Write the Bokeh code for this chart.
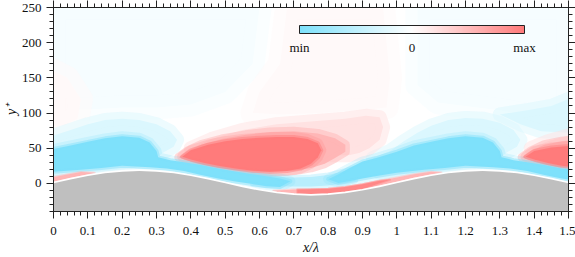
from bokeh.plotting import figure
from bokeh.models import (LinearAxis, Range1d, SingleIntervalTicker, NumeralTickFormatter,
                          ColorBar, LinearColorMapper, FixedTicker)
from bokeh.embed import file_html
from bokeh.resources import INLINE

# ---------------- axes / labels ----------------
x_lim = [0.0, 1.5]
y_lim = [-40.0, 250.0]
x_major = 0.1
y_major = 50
cbar_ticks = [-1, 0, 1]
cbar_labels = ["min", "0", "max"]

BLUE = "#7ee1fb"
RED = "#ff7b7b"
GRAY = "#bfbfbf"
SERIF = "Liberation Serif, serif"

# ---------------- wall (y+ of the wavy surface) ----------------
wall_x = [0.0, 0.05, 0.1, 0.15, 0.2, 0.25, 0.3, 0.35, 0.4, 0.45, 0.5, 0.55, 0.6, 0.65, 0.7, 0.75,
          0.8, 0.85, 0.9, 0.95, 1.0, 1.05, 1.1, 1.15, 1.2, 1.25, 1.3, 1.35, 1.4, 1.45, 1.5]
wall_y = [0, 5.4, 10.3, 14.2, 16.6, 17.5, 16.6, 14.2, 10.3, 5.4, 0, -5.4, -10.3, -14.2, -16.6, -17.5,
          -16.6, -14.2, -10.3, -5.4, 0, 5.4, 10.3, 14.2, 16.6, 17.5, 16.6, 14.2, 10.3, 5.4, 0]

# ---------------- faint background tints ----------------
bg_blue_left_x = [0.0, 0.0, 0.6, 0.58, 0.5, 0.4, 0.3, 0.2, 0.1, 0.05]
bg_blue_left_y = [110, 250, 250, 170, 130, 112, 108, 108, 105, 105]
bg_pink_mid_x = [0.68, 0.66, 0.6, 0.58, 0.66, 0.78, 0.9, 0.97, 0.98, 0.96]
bg_pink_mid_y = [250, 170, 130, 100, 98, 100, 104, 108, 150, 250]
bg_blue_right_x = [1.06, 1.06, 1.12, 1.2, 1.3, 1.4, 1.5, 1.5]
bg_blue_right_y = [250, 140, 115, 110, 104, 95, 88, 250]
bg_pink_left_x = [0.0, 0.0, 0.04, 0.08, 0.07, 0.03]
bg_pink_left_y = [82, 160, 150, 120, 92, 82]

# ---------------- pale layers ----------------
pale_blue_left_x = [0.0, 0.0, 0.05, 0.1, 0.15, 0.2, 0.25, 0.3, 0.34, 0.36, 0.35, 0.32, 0.3, 0.2, 0.1, 0.0]
pale_blue_left_y = [40, 68, 76, 84, 90, 92, 90, 84, 74, 62, 52, 44, 36, 30, 25, 20]
pale_blue_right_x = [0.93, 0.98, 1.02, 1.06, 1.1, 1.15, 1.2, 1.25, 1.3, 1.34, 1.36, 1.35, 1.32, 1.3,
                     1.2, 1.1, 1.0, 0.95]
pale_blue_right_y = [36, 46, 60, 72, 82, 90, 93, 92, 86, 76, 62, 52, 44, 36, 30, 25, 20, 15]
pale_blue_edge_x = [1.3, 1.36, 1.42, 1.5, 1.5, 1.45, 1.38]
pale_blue_edge_y = [98, 84, 74, 72, 120, 110, 104]
red_pale_left_x = [0.4, 0.46, 0.55, 0.65, 0.75, 0.85, 0.91, 0.95, 0.96, 0.95, 0.92, 0.89, 0.86, 0.8, 0.6]
red_pale_left_y = [50, 63, 76, 84, 88, 92, 96, 94, 80, 62, 50, 43, 40, 40, 45]
red_pale_right_x = [1.39, 1.44, 1.5, 1.5, 1.45]
red_pale_right_y = [50, 60, 68, 40, 40]

# ---------------- medium layers ----------------
red_med_left_x = [0.365, 0.39, 0.43, 0.49, 0.56, 0.63, 0.7, 0.77, 0.82, 0.85, 0.85, 0.82, 0.79, 0.75,
                  0.7, 0.62, 0.55, 0.48, 0.42, 0.385]
red_med_left_y = [37, 46, 55, 63, 69, 73, 74, 71, 64, 55, 45, 36, 28, 22, 18, 16, 18, 22, 28, 33]
red_med_right_x = [1.365, 1.39, 1.43, 1.48, 1.5, 1.5, 1.47, 1.42, 1.385]
red_med_right_y = [37, 46, 55, 60, 61, 23, 23, 28, 33]
blue_mid_x = [0.58, 0.65, 0.7, 0.75, 0.8, 0.85, 0.88, 0.88, 0.85, 0.8, 0.75, 0.7, 0.65, 0.58]
blue_mid_y = [13, 9.5, 8.5, 9, 12, 18, 22, 4, 0, -3, -4.5, -4.5, -4, -1.5]

# ---------------- saturated cores ----------------
blue_core_left_x = [0.0, 0.05, 0.1, 0.15, 0.2, 0.25, 0.28, 0.3, 0.305, 0.34, 0.38, 0.43, 0.48, 0.53,
                    0.58, 0.62, 0.66, 0.69, 0.66, 0.62, 0.58, 0.53, 0.48, 0.43, 0.38, 0.33, 0.28,
                    0.2, 0.14, 0.08, 0.0]
blue_core_left_y = [49, 54, 59, 64, 67, 65, 58, 46, 37, 33, 30, 26, 21, 17, 13, 10, 7, 3, -5, -4, -1,
                    2.5, 7, 12, 17.5, 21, 23, 25, 22, 19.5, 16.5]
blue_core_right_x = [0.8, 0.83, 0.86, 0.9, 0.94, 1.0, 1.05, 1.1, 1.15, 1.2, 1.25, 1.28, 1.3, 1.305,
                     1.34, 1.38, 1.43, 1.48, 1.5, 1.5, 1.48, 1.43, 1.38, 1.33, 1.28, 1.2, 1.14, 1.08,
                     1.0, 0.95, 0.9, 0.86, 0.83]
blue_core_right_y = [6, 13, 21, 31, 36, 45, 54, 59, 64, 67, 65, 58, 46, 37, 33, 30, 26, 21, 20, 5.5,
                     7, 12, 17.5, 21, 23, 25, 22, 19.5, 15, 11, 7, 3, 0.5]
red_core_left_x = [0.375, 0.4, 0.45, 0.5, 0.55, 0.6, 0.65, 0.7, 0.74, 0.77, 0.78, 0.77, 0.75, 0.72,
                   0.68, 0.63, 0.58, 0.53, 0.48, 0.44, 0.4]
red_core_left_y = [38, 47, 55, 60, 63, 65, 66, 66, 63, 57, 47, 37, 28, 21, 17.5, 16.5, 18, 21, 25, 29, 34]
red_core_right_x = [1.375, 1.4, 1.45, 1.5, 1.5, 1.48, 1.44, 1.4]
red_core_right_y = [38, 46, 51, 53, 24, 25, 29, 34]

# ---------------- thin near-wall layers ----------------
strip_x = [0.64, 0.7, 0.75, 0.8, 0.85, 0.9, 0.95, 1.0, 1.05, 1.1, 1.13, 1.1, 1.05, 1.0, 0.95, 0.9,
           0.85, 0.8, 0.75, 0.7, 0.64]
strip_y = [-10.5, -8.6, -8.5, -7.6, -5.2, -1.3, 3.6, 8.5, 13, 16.5, 15.5, 13, 7.9, 2.3, -3.1, -8,
           -11.9, -14.3, -15.2, -14.4, -12.0]
strip_core_x = [0.71, 0.75, 0.8, 0.85, 0.9, 0.95, 0.98, 0.95, 0.9, 0.85, 0.8, 0.75, 0.71]
strip_core_y = [-8.8, -8.5, -7.6, -5.2, -1.3, 3.6, 5, 0, -8, -11.9, -14.3, -15.2, -14.6]
strip_left_x = [0.0, 0.04, 0.08, 0.12, 0.08, 0.04, 0.0]
strip_left_y = [9, 12.5, 16, 15, 10.8, 6.6, 2.3]


def hexrgb(h):
    return tuple(int(h[i:i + 2], 16) for i in (1, 3, 5))


def tint(c, a):
    """colour c mixed with white, opaque"""
    return "#%02x%02x%02x" % tuple(round(255 + (ci - 255) * a) for ci in hexrgb(c))


def make_palette(c_lo, c_hi, n=256):
    out = []
    for i in range(n):
        t = i / (n - 1) * 2 - 1
        out.append(tint(c_lo, -t) if t < 0 else tint(c_hi, t))
    return out


p = figure(width=575, height=257, x_range=Range1d(*x_lim), y_range=Range1d(*y_lim),
           output_backend="svg", toolbar_location=None,
           min_border_left=0, min_border_right=7, min_border_top=7, min_border_bottom=0,
           background_fill_color="white", border_fill_color="white")
p.xgrid.visible = False
p.ygrid.visible = False
p.outline_line_color = "#222222"


def layer(xs, ys, color, level, halo_w=0, halo_a=0.0, fill=True):
    c = tint(color, level)
    p.patches(xs=xs, ys=ys, fill_color=c, fill_alpha=1.0 if fill else 0.0,
              line_color=c if halo_w else None, line_alpha=halo_a,
              line_width=halo_w, line_join="round")


core_xs = [blue_core_left_x, blue_core_right_x, red_core_left_x, red_core_right_x]
core_ys = [blue_core_left_y, blue_core_right_y, red_core_left_y, red_core_right_y]

# faint tints
layer([bg_blue_left_x, bg_blue_right_x], [bg_blue_left_y, bg_blue_right_y], BLUE, 0.07, 24, 0.5)
layer([bg_pink_mid_x, bg_pink_left_x], [bg_pink_mid_y, bg_pink_left_y], RED, 0.045, 24, 0.5)
# pale
layer([pale_blue_left_x, pale_blue_right_x, pale_blue_edge_x],
      [pale_blue_left_y, pale_blue_right_y, pale_blue_edge_y], BLUE, 0.28, 14, 0.5)
layer([red_pale_left_x, red_pale_right_x], [red_pale_left_y, red_pale_right_y], RED, 0.22, 14, 0.5)
# medium
layer([red_med_left_x, red_med_right_x], [red_med_left_y, red_med_right_y], RED, 0.55, 9, 0.5)
layer([blue_mid_x], [blue_mid_y], BLUE, 0.55, 5, 0.5)
# soft rims of the cores
layer(core_xs[:2], core_ys[:2], BLUE, 1.0, 10, 0.2, fill=False)
layer(core_xs[2:], core_ys[2:], RED, 1.0, 10, 0.2, fill=False)
# cores
layer(core_xs[:2], core_ys[:2], BLUE, 1.0, 4, 0.45)
layer(core_xs[2:], core_ys[2:], RED, 1.0, 4, 0.45)
# thin layers above the wall
layer([strip_x, strip_left_x], [strip_y, strip_left_y], RED, 0.55, 2, 0.5)
layer([strip_core_x], [strip_core_y], RED, 0.9, 2, 0.5)

# wall
p.line(wall_x, wall_y, line_color="white", line_width=3.5)
p.varea(x=wall_x, y1=y_lim[0], y2=wall_y, fill_color=GRAY)


# ---------------- axes ----------------
def style_axis(ax, labels=True):
    ax.axis_line_color = "#222222"
    ax.major_tick_line_color = "#222222"
    ax.minor_tick_line_color = "#222222"
    ax.major_tick_out = 7
    ax.major_tick_in = 0
    ax.minor_tick_out = 4
    ax.minor_tick_in = 0
    ax.major_label_text_font = SERIF
    ax.major_label_text_font_size = "13px"
    ax.major_label_text_color = "#111111"
    ax.axis_label_text_font = SERIF
    ax.axis_label_text_font_size = "14px"
    ax.axis_label_text_font_style = "italic"
    ax.axis_label_text_color = "#111111"
    if not labels:
        ax.major_label_text_color = None
        ax.major_label_text_font_size = "1px"
        ax.major_label_standoff = 0


xb = p.xaxis[0]
yl = p.yaxis[0]
xb.ticker = SingleIntervalTicker(interval=x_major, num_minor_ticks=5)
xb.formatter = NumeralTickFormatter(format="0.[0]")
yl.ticker = SingleIntervalTicker(interval=y_major, num_minor_ticks=5)
style_axis(xb)
style_axis(yl)
xb.major_label_standoff = 8
xb.axis_label = "x/λ"
xb.axis_label_standoff = 2
yl.major_label_standoff = 5
yl.axis_label = "y⁺"
yl.axis_label_standoff = 0

xt = LinearAxis(ticker=SingleIntervalTicker(interval=x_major, num_minor_ticks=5))
yr = LinearAxis(ticker=SingleIntervalTicker(interval=y_major, num_minor_ticks=5))
style_axis(xt, labels=False)
style_axis(yr, labels=False)
p.add_layout(xt, "above")
p.add_layout(yr, "right")

# ---------------- colour bar ----------------
mapper = LinearColorMapper(palette=make_palette(BLUE, RED), low=cbar_ticks[0], high=cbar_ticks[-1])
cb = ColorBar(color_mapper=mapper, orientation="horizontal", width=225, height=8,
              location=(246, 154), padding=0, ticker=FixedTicker(ticks=cbar_ticks),
              major_label_overrides={t: s for t, s in zip(cbar_ticks, cbar_labels)},
              major_tick_line_color=None, minor_tick_line_color=None,
              bar_line_color="#222222", bar_line_width=1,
              background_fill_alpha=0, border_line_color=None,
              label_standoff=6, major_label_text_font=SERIF,
              major_label_text_font_size="13px", major_label_text_color="#111111")
p.add_layout(cb, "center")

open("out.html", "w").write(file_html(p, INLINE))
